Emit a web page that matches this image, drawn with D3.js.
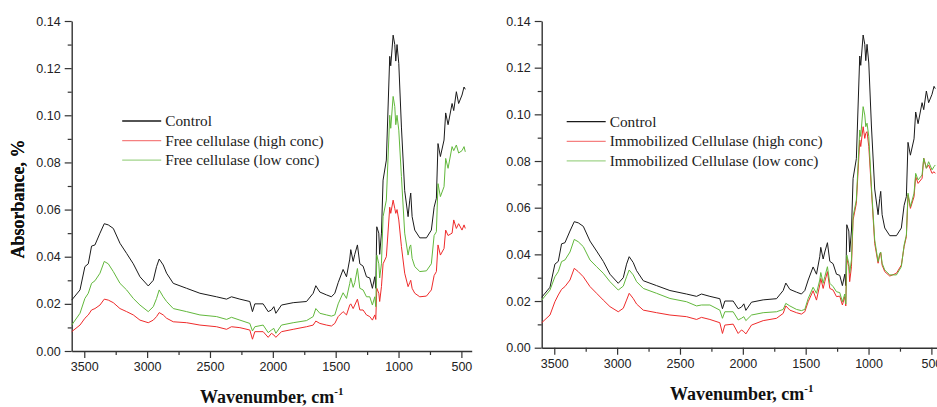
<!DOCTYPE html>
<html>
<head>
<meta charset="utf-8">
<script src="https://cdn.jsdelivr.net/npm/d3@7"></script>
<style>
  body { margin: 0; background: #fff; }
  svg { display: block; }
  .tick text { font-family: "Liberation Sans", Arial, sans-serif; font-size: 12.5px; fill: #222; }
  .domain, .tick line { stroke: #333; }
</style>
</head>
<body>
<div id="chart"></div>
<script>
// wavenumbers (cm-1)
const wavenumbers = [3600,3534,3495,3468,3442,3415,3375,3341,3309,3269,3216,3163,3110,3057,2991,2951,2925,2904,2872,2845,2792,2686,2580,2448,2368,2329,2262,2183,2162,2143,2077,2037,2011,1992,1976,1931,1838,1732,1679,1658,1626,1573,1534,1507,1480,1441,1414,1388,1380,1361,1348,1327,1308,1282,1255,1229,1208,1189,1181,1173,1157,1150,1136,1123,1097,1070,1062,1043,1030,1022,1012,998,977,951,924,911,903,892,871,831,778,739,717,699,686,667,638,625,606,574,561,540,522,495,479,469];

const control = [0.0216,0.0259,0.0358,0.037,0.0445,0.045,0.050,0.054,0.0535,0.052,
  0.0457,0.0414,0.037,0.0315,0.0276,0.030,0.0358,0.039,0.0365,0.033,
  0.0287,0.0266,0.0245,0.023,0.022,0.023,0.022,0.021,0.0167,0.020,
  0.020,0.0167,0.0174,0.0188,0.016,0.0195,0.0205,0.021,0.0245,0.0277,
  0.025,0.0238,0.023,0.0245,0.029,0.0346,0.0315,0.039,0.043,0.038,
  0.041,0.045,0.037,0.036,0.0315,0.031,0.0266,0.0315,0.0266,0.0527,
  0.050,0.041,0.050,0.0725,0.081,0.125,0.121,0.134,0.130,0.123,
  0.130,0.122,0.095,0.068,0.057,0.064,0.067,0.057,0.0513,0.048,
  0.048,0.0513,0.061,0.0648,0.088,0.0825,0.0895,0.101,0.096,0.105,
  0.102,0.110,0.105,0.1086,0.112,0.111];

const freeHigh = [0.0082,0.011,0.0139,0.0153,0.0174,0.018,0.0195,0.022,0.0216,0.0205,
  0.018,0.0167,0.0153,0.0131,0.012,0.0131,0.0146,0.0163,0.0153,0.0139,
  0.0124,0.012,0.011,0.0103,0.0092,0.0103,0.0099,0.0089,0.005,0.0082,
  0.0082,0.0058,0.0075,0.0068,0.0058,0.0082,0.0092,0.0103,0.011,0.0127,
  0.0117,0.011,0.0106,0.0117,0.0146,0.0167,0.0153,0.0195,0.020,0.018,
  0.0195,0.022,0.0174,0.0174,0.0153,0.0146,0.0131,0.0153,0.0134,0.0266,
  0.0245,0.021,0.0273,0.037,0.040,0.061,0.0584,0.064,0.0605,0.0584,
  0.060,0.0556,0.0443,0.033,0.0273,0.029,0.030,0.0266,0.0245,0.023,
  0.0233,0.0259,0.032,0.0337,0.045,0.0407,0.0435,0.0513,0.049,0.050,
  0.0556,0.052,0.054,0.0513,0.0535,0.052];

const freeLow = [0.011,0.016,0.0223,0.0245,0.0287,0.0298,0.033,0.038,0.037,0.0337,
  0.0287,0.0259,0.0223,0.0195,0.0167,0.0188,0.0223,0.0259,0.023,0.021,
  0.018,0.0167,0.0153,0.0146,0.0134,0.0143,0.0131,0.0117,0.0085,0.0103,
  0.011,0.0078,0.0089,0.0096,0.0075,0.011,0.012,0.0129,0.0146,0.018,
  0.016,0.0153,0.0148,0.0153,0.020,0.0247,0.0223,0.0287,0.031,0.027,
  0.029,0.035,0.0266,0.0259,0.023,0.023,0.0195,0.023,0.0188,0.0407,
  0.037,0.031,0.037,0.057,0.064,0.100,0.0945,0.108,0.1037,0.096,
  0.100,0.0937,0.074,0.050,0.0407,0.0443,0.045,0.0393,0.0358,0.0337,
  0.034,0.037,0.049,0.0506,0.071,0.0655,0.0697,0.0817,0.0775,0.0867,
  0.085,0.0874,0.084,0.085,0.0867,0.0845];

const immHigh = [0.0107,0.014,0.0197,0.0226,0.025,0.0262,0.029,0.034,0.0326,0.0304,
  0.0262,0.0233,0.0204,0.0176,0.0154,0.0169,0.0204,0.0233,0.0211,0.0187,
  0.0161,0.015,0.014,0.0133,0.0121,0.013,0.0121,0.0107,0.0061,0.0097,
  0.0101,0.0061,0.0076,0.0069,0.0059,0.0097,0.0116,0.0126,0.0147,0.0179,
  0.0161,0.015,0.0144,0.0154,0.0197,0.0244,0.0204,0.0269,0.0297,0.0254,
  0.0283,0.0326,0.0254,0.0247,0.0219,0.0221,0.0183,0.0219,0.0179,0.0383,
  0.0347,0.0283,0.0347,0.0547,0.0619,0.089,0.0862,0.0947,0.0897,0.0919,
  0.0926,0.0862,0.0676,0.0447,0.0362,0.0397,0.0407,0.0354,0.0326,0.0307,
  0.0319,0.0354,0.0433,0.0476,0.0654,0.0597,0.0647,0.0733,0.0704,0.0726,
  0.0812,0.0769,0.0783,0.0747,0.0754,0.0747];

const immLow = [0.0204,0.0247,0.0304,0.0326,0.0369,0.0376,0.041,0.0464,0.0454,0.0433,
  0.0376,0.0347,0.0319,0.0283,0.0247,0.0264,0.0304,0.0333,0.0312,0.0283,
  0.0254,0.0233,0.0211,0.0197,0.0179,0.0183,0.0183,0.0161,0.0126,0.0154,
  0.0154,0.0119,0.0126,0.0133,0.0116,0.014,0.015,0.0154,0.0164,0.019,
  0.0179,0.0164,0.0159,0.0164,0.0211,0.0259,0.0233,0.029,0.0322,0.0276,
  0.0304,0.0347,0.0276,0.0262,0.024,0.0236,0.0197,0.023,0.0187,0.0397,
  0.0362,0.0319,0.0376,0.0562,0.0633,0.0933,0.0905,0.1033,0.0997,0.0947,
  0.0962,0.0905,0.069,0.0462,0.0369,0.0404,0.041,0.0362,0.0333,0.0312,
  0.0312,0.0347,0.044,0.0483,0.0662,0.0604,0.0662,0.0747,0.0719,0.074,
  0.0812,0.0769,0.0797,0.0762,0.0776,0.0783];

const xTicks = [3500, 3000, 2500, 2000, 1500, 1000, 500];
const xMinor = [3250, 2750, 2250, 1750, 1250, 750];
const yTicks = [0, 0.02, 0.04, 0.06, 0.08, 0.10, 0.12, 0.14];
const yMinor = [0.01, 0.03, 0.05, 0.07, 0.09, 0.11, 0.13];

const leftLabels = ["Control", "Free cellulase (high conc)", "Free cellulase (low conc)"];
const rightLabels = ["Control", "Immobilized Cellulase (high conc)", "Immobilized Cellulase (low conc)"];
const colors = ["#1a1a1a", "#ef2b2b", "#62b83c"];

const W = 937, H = 407;
const svg = d3.select("#chart").append("svg").attr("width", W).attr("height", H);

// one panel of the figure
function drawPanel(opt) {
  const g = svg.append("g").attr("transform", `translate(${opt.left},${opt.top})`);
  const w = 400, h = opt.height;

  const x = d3.scaleLinear().domain([3600, 418]).range([0, w]);
  const y = d3.scaleLinear().domain([0, 0.14]).range([h, 0]);

  // minor ticks first, then the labelled axis on top
  g.append("g").attr("transform", `translate(0,${h})`)
    .call(d3.axisBottom(x).tickValues(xMinor).tickSize(4).tickFormat(""))
    .call(a => a.select(".domain").remove());
  g.append("g")
    .call(d3.axisLeft(y).tickValues(yMinor).tickSize(4).tickFormat(""))
    .call(a => a.select(".domain").remove());

  g.append("g").attr("transform", `translate(0,${h})`)
    .call(d3.axisBottom(x).tickValues(xTicks).tickSize(7).tickSizeOuter(0).tickPadding(4).tickFormat(d3.format("d")));
  g.append("g")
    .call(d3.axisLeft(y).tickValues(yTicks).tickSize(7).tickSizeOuter(0).tickPadding(4).tickFormat(d3.format(".2f")));
  g.selectAll(".domain").attr("stroke-width", 1.4);
  g.selectAll(".tick line").attr("stroke-width", 1.2);

  const line = d3.line()
    .x((d, i) => x(wavenumbers[i]))
    .y(d => y(d));

  opt.series.forEach((s, i) => {
    g.append("path")
      .datum(s)
      .attr("fill", "none")
      .attr("stroke", colors[i])
      .attr("stroke-width", 1)
      .attr("stroke-linejoin", "round")
      .attr("d", line);
  });

  // legend
  const lg = g.append("g").attr("transform", `translate(${opt.legendX},${opt.legendY})`);
  opt.labels.forEach((lab, i) => {
    const row = lg.append("g").attr("transform", `translate(0,${i * 19.6})`);
    row.append("line").attr("x1", 0).attr("x2", 39)
      .attr("stroke", colors[i]).attr("stroke-opacity", i === 0 ? 1 : 0.6).attr("stroke-width", 1.3);
    row.append("text").attr("x", 43).attr("y", 5)
      .attr("font-family", "'Liberation Serif', 'Times New Roman', serif")
      .attr("font-size", 15.3).attr("fill", "#222").text(lab);
  });

  // axis titles
  g.append("text")
    .attr("transform", `translate(${-opt.left + 18},${199 - opt.top}) rotate(-90)`)
    .attr("text-anchor", "middle").attr("dominant-baseline", "central")
    .attr("font-family", "'Liberation Serif', 'Times New Roman', serif")
    .attr("font-weight", "bold").attr("font-size", 18).attr("fill", "#111")
    .text("Absorbance, %");

  const xt = g.append("text")
    .attr("x", w / 2).attr("y", opt.xTitleY - opt.top)
    .attr("text-anchor", "middle")
    .attr("font-family", "'Liberation Serif', 'Times New Roman', serif")
    .attr("font-weight", "bold").attr("font-size", 18).attr("fill", "#111");
  xt.append("tspan").text("Wavenumber, cm");
  xt.append("tspan").attr("dy", -8).attr("font-size", 11).text("-1");
}

drawPanel({ left: 71.7, top: 21, height: 330, series: [control, freeHigh, freeLow],
  labels: leftLabels, legendX: 50.5, legendY: 100, xTitleY: 403 });

drawPanel({ left: 541.7, top: 21, height: 326.7, series: [control, immHigh, immLow],
  labels: rightLabels, legendX: 25, legendY: 100.7, xTitleY: 400 });
</script>
</body>
</html>
